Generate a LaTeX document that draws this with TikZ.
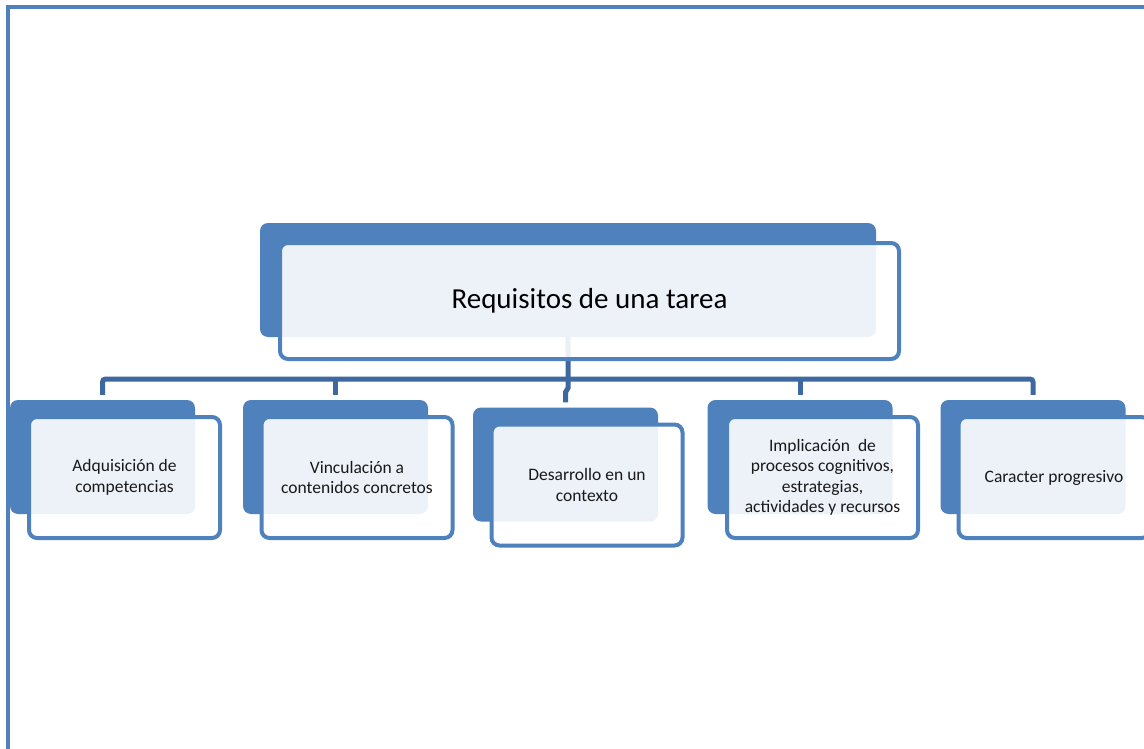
\documentclass[tikz,border=0pt]{standalone}
\usepackage{fontspec}
\setmainfont{Carlito}
\usetikzlibrary{calc}
\definecolor{boxblue}{RGB}{79,129,189}
\definecolor{connblue}{RGB}{62,104,160}
\definecolor{txtgray}{RGB}{25,25,25}
\pgfdeclarelayer{background}
\pgfsetlayers{background,main}
\tikzset{
  backbox/.style={draw=none, fill=boxblue, rounded corners=8pt, inner sep=0pt,
    minimum width=185pt, minimum height=114pt},
  frontbox/.style={draw=boxblue, line width=4pt, fill=white, fill opacity=0.9, text opacity=1,
    rounded corners=8pt, inner sep=0pt, minimum width=191pt, minimum height=121pt,
    align=center, text=txtgray, font=\fontsize{17.5}{20.5}\selectfont},
  conn/.style={draw=connblue, line width=5pt},
  framel/.style={draw=boxblue, line width=4pt}
}
\begin{document}
\begin{tikzpicture}[x=1pt, y=-1pt]
\path[use as bounding box, clip] (0,0) rectangle (1144,749);
% frame
\coordinate (fa) at (1144,7);
\coordinate (fb) at (7.5,7);
\coordinate (fc) at (7.5,749);
\draw[framel] (fa) -- (fb) -- (fc);
% top box
\node[backbox, minimum width=616pt, minimum height=114pt] (topback) at (568,280) {};
\node[frontbox, minimum width=619pt, minimum height=116pt, text=black,
  font=\fontsize{29}{33}\selectfont] (top) at (589.5,301) {Requisitos de una tarea};
% child boxes
\node[backbox] (b1) at (102.5,457) {};
\node[frontbox] (f1) at (124.5,477.5) {Adquisición de\\competencias};
\node[backbox] (b2) at (335.5,457) {};
\node[frontbox] (f2) at (357,477.5) {Vinculación a\\contenidos concretos};
\node[backbox] (b3) at (565.5,464.5) {};
\node[frontbox] (f3) at (587,485) {Desarrollo en un\\contexto};
\node[backbox] (b4) at (800,457) {};
\node[frontbox] (f4) at (822.5,477.5) {Implicación\ \ de\\procesos cognitivos,\\estrategias,\\actividades y recursos};
\node[backbox] (b5) at (1033,457) {};
\node[frontbox] (f5) at (1054,477.5) {Caracter progresivo};
% connectors
\coordinate (bar) at (0,379);
\begin{pgfonlayer}{background}
\fill[white] (0,0) rectangle (1144,749);
\draw[conn, rounded corners=3pt, shorten <=5pt, shorten >=5pt] (b1.north) |- (bar -| b5.north) -- (b5.north);
\draw[conn, shorten >=5pt] (b2.north |- bar) -- (b2.north);
\draw[conn, shorten >=5pt] (b4.north |- bar) -- (b4.north);
\draw[conn, shorten >=5pt] (topback.south) -- ($(topback.south |- bar)+(0,9)$) -- ($(b3.north)+(0,-15)$) -- (b3.north);
\end{pgfonlayer}
\end{tikzpicture}
\end{document}
